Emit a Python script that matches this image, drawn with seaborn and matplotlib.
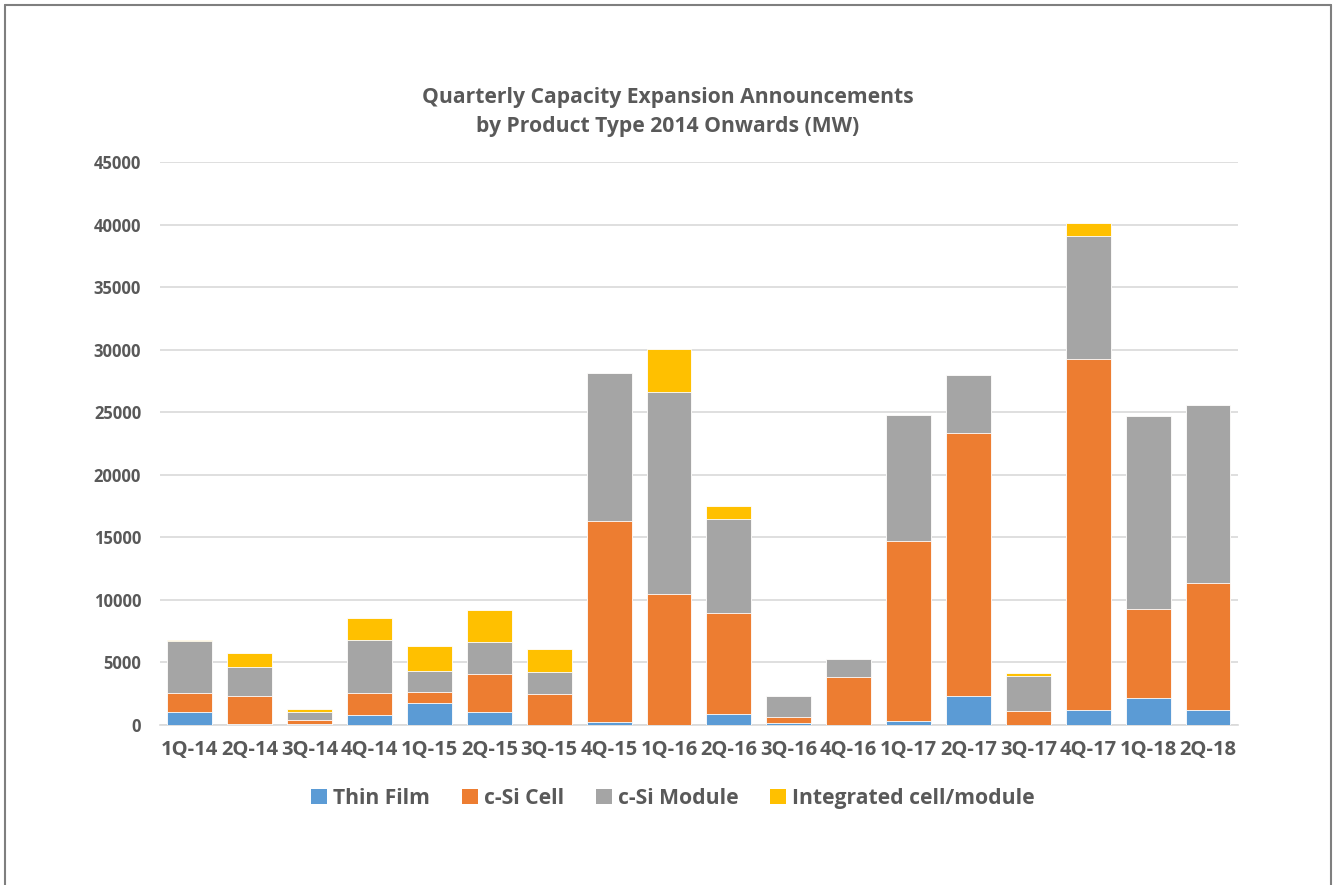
import numpy as np
import pandas as pd
import matplotlib
matplotlib.use("Agg")
import matplotlib.pyplot as plt
from matplotlib.patches import Patch
from matplotlib.lines import Line2D
import seaborn as sns

quarters = ["1Q-14", "2Q-14", "3Q-14", "4Q-14", "1Q-15", "2Q-15", "3Q-15", "4Q-15", "1Q-16",
            "2Q-16", "3Q-16", "4Q-16", "1Q-17", "2Q-17", "3Q-17", "4Q-17", "1Q-18", "2Q-18"]
thin_film = [1000, 80, 50, 780, 1760, 1020, 0, 270, 0,
             880, 140, 0, 350, 2350, 0, 1190, 2130, 1190]
csi_cell = [1560, 2240, 350, 1780, 880, 3070, 2480, 16020, 10490,
            8040, 500, 3850, 14390, 21020, 1080, 28070, 7180, 10170]
csi_module = [4120, 2330, 640, 4200, 1660, 2560, 1720, 11880, 16100,
              7580, 1710, 1390, 10010, 4620, 2860, 9820, 15360, 14200]
integrated = [100, 1090, 240, 1790, 1980, 2510, 1890, 0, 3500,
              1010, 0, 0, 0, 0, 190, 1030, 0, 0]

series_names = ["Thin Film", "c-Si Cell", "c-Si Module", "Integrated cell/module"]
series_colors = ["#5B9BD5", "#ED7D31", "#A5A5A5", "#FFC000"]
y_ticks = list(range(0, 45001, 5000))

sns.set_theme(style="white")
plt.rcParams["font.family"] = ["Open Sans", "DejaVu Sans"]
text_color = "#595959"

df = pd.DataFrame({"quarter": quarters, "Thin Film": thin_film, "c-Si Cell": csi_cell,
                   "c-Si Module": csi_module, "Integrated cell/module": integrated})
cum = df[series_names].cumsum(axis=1)

fig = plt.figure(figsize=(13.33, 8.85), dpi=100)
ax = fig.add_axes([0.120, 0.1808, 0.8087, 0.6361])

# stacked bars: draw cumulative totals from the top segment down
for name, color in reversed(list(zip(series_names, series_colors))):
    sns.barplot(x=df["quarter"], y=cum[name], color=color, width=0.75,
                edgecolor="white", linewidth=0.6, saturation=1, ax=ax, zorder=3)

ax.set_ylim(0, 45000)
ax.set_xlim(-0.5, len(quarters) - 0.5)
ax.set_yticks(y_ticks)
ax.set_yticklabels([str(v) for v in y_ticks])
ax.yaxis.grid(True, color="#D9D9D9", linewidth=1.2, zorder=0)
ax.set_axisbelow(True)
for s in ax.spines.values():
    s.set_visible(False)
ax.spines["bottom"].set_visible(True)
ax.spines["bottom"].set_color("#D9D9D9")
ax.spines["bottom"].set_linewidth(1.2)
ax.set_xlabel("")
ax.set_ylabel("")
ax.tick_params(axis="both", length=0, labelcolor=text_color)
ax.tick_params(axis="y", pad=13.5, labelsize=12)
ax.tick_params(axis="x", pad=11, labelsize=14.5)
for lbl in ax.get_xticklabels() + ax.get_yticklabels():
    lbl.set_fontweight("bold")

fig.text(0.501, 0.874, "Quarterly Capacity Expansion Announcements\nby Product Type 2014 Onwards (MW)",
         ha="center", va="center", fontsize=15.2, fontweight="bold", color=text_color,
         linespacing=1.5)

handles = [Patch(facecolor=c, edgecolor="none", label=n) for n, c in zip(series_names, series_colors)]
leg = fig.legend(handles=handles, loc="center", bbox_to_anchor=(0.505, 0.098), ncol=4,
                 frameon=False, fontsize=15.2, handlelength=0.75, handleheight=0.75,
                 handletextpad=0.3, columnspacing=1.5)
for t in leg.get_texts():
    t.set_color(text_color)
    t.set_fontweight("bold")

# chart frame
W, H = 1333, 885
frame_kw = dict(color="#7F7F7F", linewidth=1.5, transform=fig.transFigure)
fig.add_artist(Line2D([4.5 / W, 4.5 / W], [0, 1 - 4.5 / H], **frame_kw))
fig.add_artist(Line2D([4.5 / W, 1331 / W], [1 - 4.5 / H, 1 - 4.5 / H], **frame_kw))
fig.add_artist(Line2D([1331 / W, 1331 / W], [0, 1 - 4.5 / H], **frame_kw))

fig.savefig("out.png", dpi=100, facecolor="white")
